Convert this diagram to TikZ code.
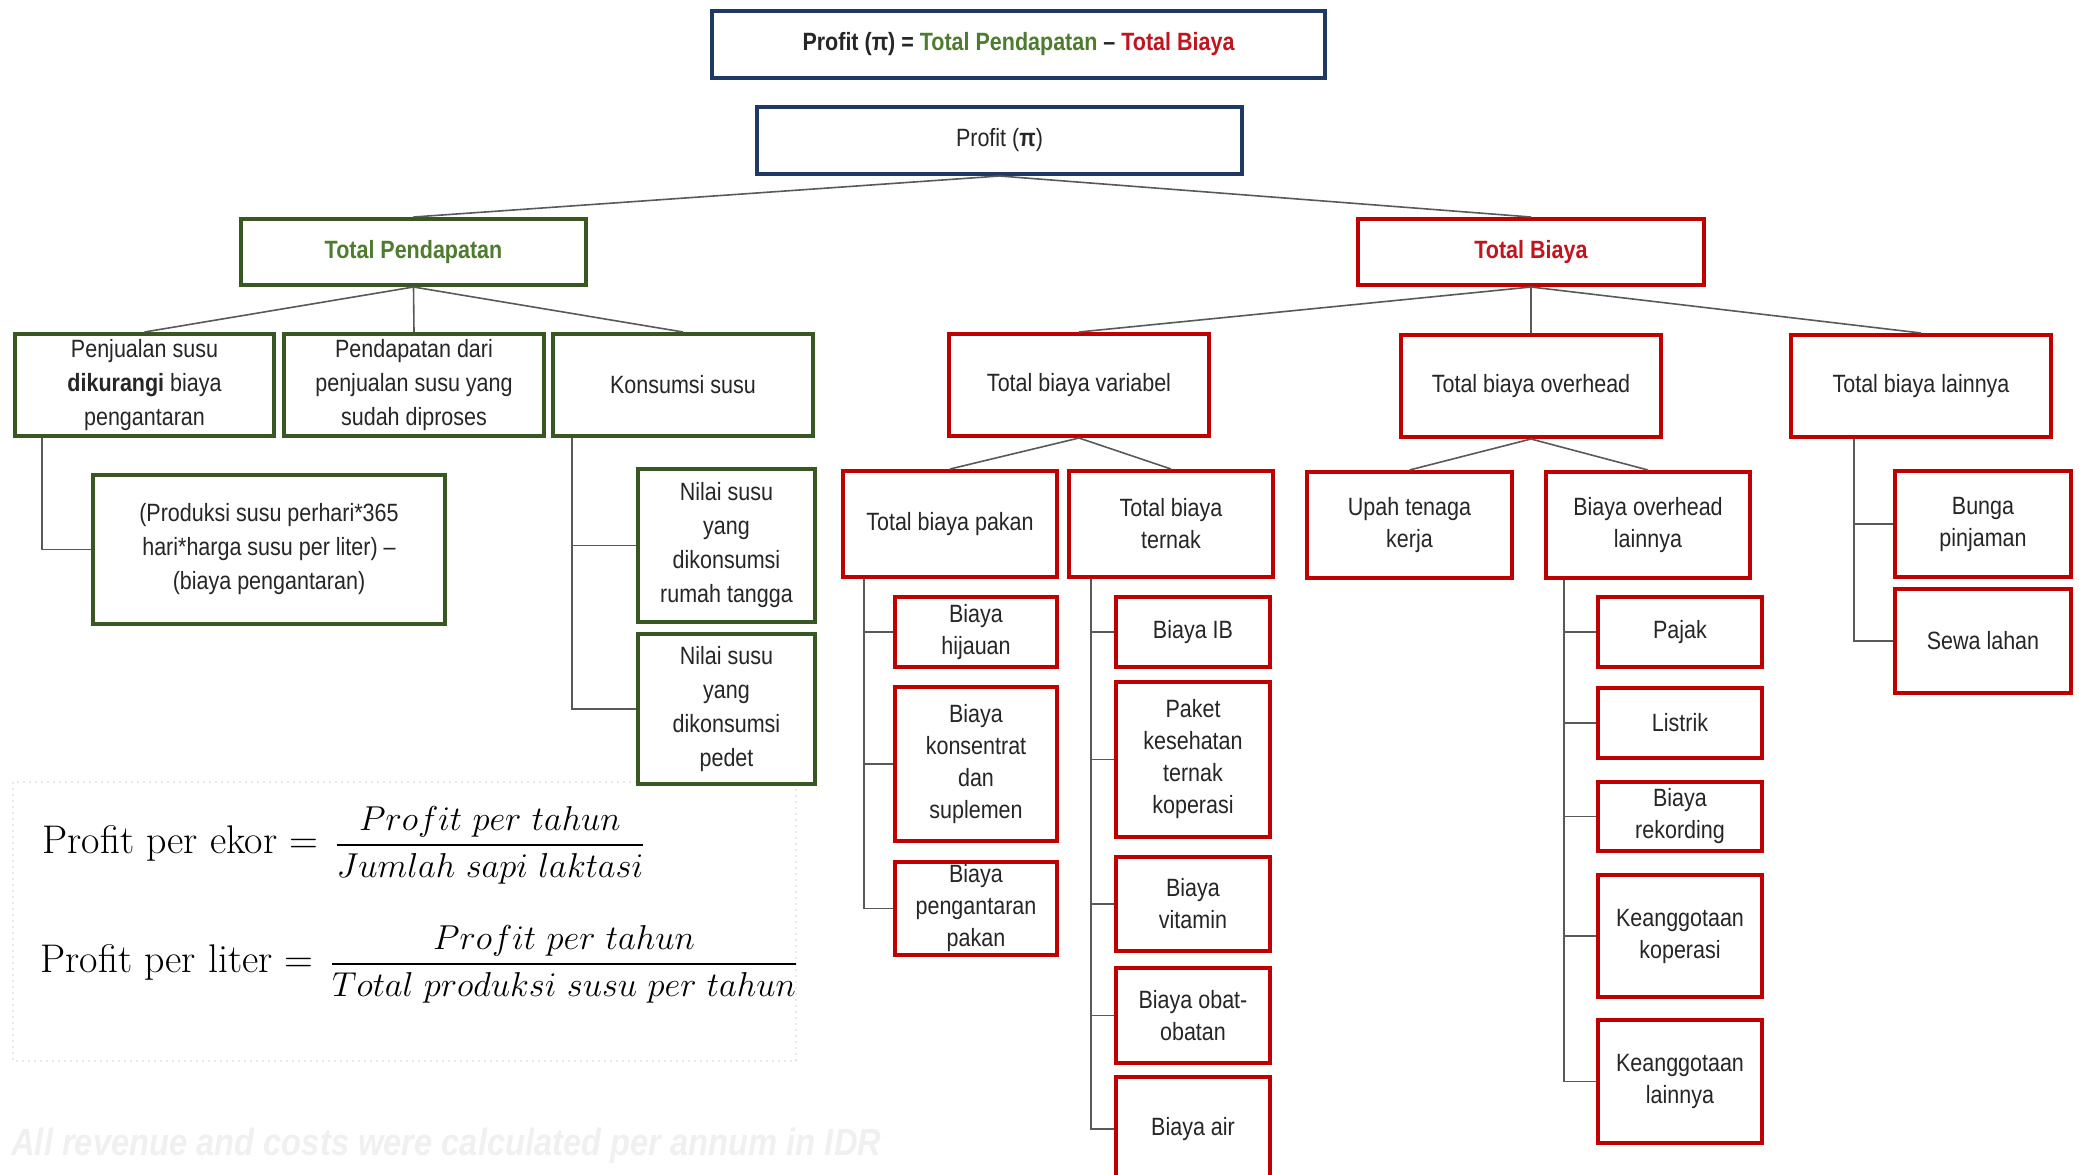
\documentclass[tikz,border=0pt]{standalone}
\usepackage{fontspec}
\usepackage{amsmath}
\setsansfont{Liberation Sans}[FakeStretch=0.86]
\definecolor{navy}{HTML}{1F3864}
\definecolor{gborder}{HTML}{385723}
\definecolor{gtext}{HTML}{4E7B2F}
\definecolor{rborder}{HTML}{C00000}
\definecolor{rtext}{HTML}{C0141E}
\definecolor{linegray}{HTML}{595959}
\definecolor{txt}{HTML}{262626}
\newcommand\bxfont{\sffamily\fontsize{12.5}{16}\selectfont}
\newcommand\bxfontg{\sffamily\fontsize{12.5}{17}\selectfont}
\newcommand\frmtxt{\fontsize{20}{24}\selectfont}
\newcommand\frmmath{\fontsize{17.28}{20}\selectfont}
\begin{document}
\begin{tikzpicture}[x=0.5pt,y=-0.5pt,
  box/.style={draw, fill=white, line width=2pt, inner sep=0pt, align=center, font=\bxfont, text=txt},
  nbox/.style={box, draw=navy},
  gbox/.style={box, draw=gborder, font=\bxfontg},
  rbox/.style={box, draw=rborder},
  wh/.style 2 args={minimum width=#1*0.5pt, minimum height=#2*0.5pt},
  conn/.style={draw=linegray, line width=0.8pt}]
\useasboundingbox (0,0) rectangle (2079,1174);

% formulas frame
\draw[gray!18, dotted, line width=1pt] (13,782) rectangle (796,1061);

% top
\node[nbox, wh={613}{67}] (top) at (1018.5,44.5) {\textbf{Profit (π) = \textcolor{gtext}{Total Pendapatan} – \textcolor{rtext}{Total Biaya}}};
\node[nbox, wh={485}{67}] (profit) at (999.5,140.5) {Profit (\textbf{π})};
\node[gbox, wh={345}{66}, text=gtext] (tp) at (413.5,252) {\textbf{Total Pendapatan}};
\node[rbox, wh={346}{66}, text=rtext] (tb) at (1531,252) {\textbf{Total Biaya}};

% green
\node[gbox, wh={259}{102}] (g1) at (144.5,385) {Penjualan susu\\\textbf{dikurangi} biaya\\pengantaran};
\node[gbox, wh={260}{102}] (g2) at (414,385) {Pendapatan dari\\penjualan susu yang\\sudah diproses};
\node[gbox, wh={260}{102}] (g3) at (683,385) {Konsumsi susu};
\node[gbox, wh={352}{149}] (g1c) at (269,549.5) {(Produksi susu perhari*365\\hari*harga susu per liter) –\\(biaya pengantaran)};
\node[gbox, wh={177}{153}] (g3a) at (726.5,545.5) {Nilai susu\\yang\\dikonsumsi\\rumah tangga};
\node[gbox, wh={177}{150}] (g3b) at (726.5,709) {Nilai susu\\yang\\dikonsumsi\\pedet};

% red level 2
\node[rbox, wh={260}{102}] (v) at (1079,385) {Total biaya variabel};
\node[rbox, wh={260}{102}] (o) at (1531,386) {Total biaya overhead};
\node[rbox, wh={260}{102}] (l) at (1921,386) {Total biaya lainnya};

% red level 3
\node[rbox, wh={214}{106}] (vp) at (950,524) {Total biaya pakan};
\node[rbox, wh={204}{106}] (vt) at (1171,524) {Total biaya\\ternak};
\node[rbox, wh={205}{106}] (ou) at (1409.5,525) {Upah tenaga\\kerja};
\node[rbox, wh={204}{106}] (oo) at (1648,525) {Biaya overhead\\lainnya};
\node[rbox, wh={176}{106}] (lb) at (1983,524) {Bunga\\pinjaman};
\node[rbox, wh={176}{104}] (ls) at (1983,641) {Sewa lahan};

% pakan children
\node[rbox, wh={162}{70}] (p1) at (976,632) {Biaya\\hijauan};
\node[rbox, wh={162}{154}] (p2) at (976,764) {Biaya\\konsentrat\\dan\\suplemen};
\node[rbox, wh={162}{93}] (p3) at (976,908.5) {Biaya\\pengantaran\\pakan};

% ternak children
\node[rbox, wh={154}{70}] (t1) at (1193,632) {Biaya IB};
\node[rbox, wh={154}{155}] (t2) at (1193,759.5) {Paket\\kesehatan\\ternak\\koperasi};
\node[rbox, wh={154}{94}] (t3) at (1193,904) {Biaya\\vitamin};
\node[rbox, wh={154}{95}] (t4) at (1193,1015.5) {Biaya obat-\\obatan};
\node[rbox, wh={154}{104}] (t5) at (1193,1129) {Biaya air};

% overhead children
\node[rbox, wh={164}{70}] (q1) at (1680,632) {Pajak};
\node[rbox, wh={164}{70}] (q2) at (1680,723) {Listrik};
\node[rbox, wh={164}{69}] (q3) at (1680,816.5) {Biaya\\rekording};
\node[rbox, wh={164}{122}] (q4) at (1680,936) {Keanggotaan\\koperasi};
\node[rbox, wh={164}{123}] (q5) at (1680,1081.5) {Keanggotaan\\lainnya};

% connectors (straight)
\draw[conn] (profit.south) -- (tp.north);
\draw[conn] (profit.south) -- (tb.north);
\draw[conn] (tp.south) -- (g1.north);
\draw[conn] (tp.south) -- (g2.north);
\draw[conn] (tp.south) -- (g3.north);
\draw[conn] (tb.south) -- (v.north);
\draw[conn] (tb.south) -- (o.north);
\draw[conn] (tb.south) -- (l.north);
\draw[conn] (v.south) -- (vp.north);
\draw[conn] (v.south) -- (vt.north);
\draw[conn] (o.south) -- (ou.north);
\draw[conn] (o.south) -- (oo.north);

% elbow connectors
\draw[conn] ([xshift=14.5pt]g1.south west) |- (g1c.west);
\draw[conn] ([xshift=10.5pt]g3.south west) |- (g3a.west);
\draw[conn] ([xshift=10.5pt]g3.south west) |- (g3b.west);
\foreach \c in {p1,p2,p3} \draw[conn] ([xshift=11.5pt]vp.south west) |- (\c.west);
\foreach \c in {t1,t2,t3,t4,t5} \draw[conn] ([xshift=12pt]vt.south west) |- (\c.west);
\foreach \c in {q1,q2,q3,q4,q5} \draw[conn] ([xshift=10pt]oo.south west) |- (\c.west);
\foreach \c in {lb,ls} \draw[conn] ([xshift=32.5pt]l.south west) |- (\c.west);

% formulas
\node[anchor=west, inner sep=0pt] (f1) at (42,845)
  {\frmtxt Profit per ekor =\hspace{8pt}{\frmmath$\dfrac{Profit\ per\ tahun}{Jumlah\ sapi\ laktasi}$}};
\node[anchor=west, inner sep=0pt] (f2) at (40,964)
  {\frmtxt Profit per liter =\hspace{8pt}{\frmmath$\dfrac{Profit\ per\ tahun}{Total\ produksi\ susu\ per\ tahun}$}};

% faint note
\node[anchor=west, inner sep=0pt, text=gray!12, font=\sffamily\bfseries\itshape\fontsize{19}{22}\selectfont] (note) at (11,1146)
  {All revenue and costs were calculated per annum in IDR};
\end{tikzpicture}
\end{document}
